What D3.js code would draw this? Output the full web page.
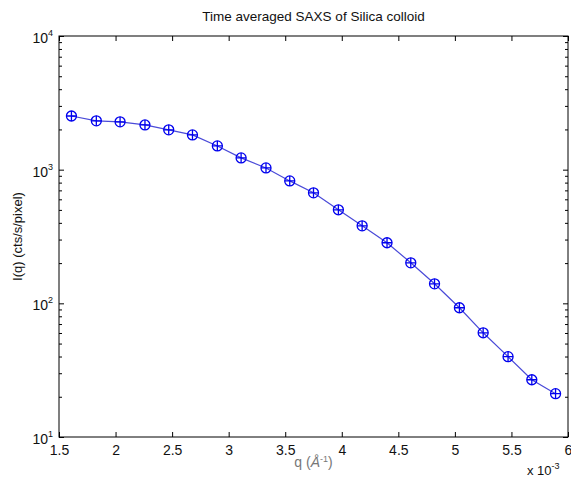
<!DOCTYPE html>
<html><head><meta charset="utf-8">
<script src="https://cdn.jsdelivr.net/npm/d3@7"></script>
<style>body{margin:0;background:#fff}svg{display:block}text{font-family:"Liberation Sans",Arial,sans-serif}</style>
</head><body><svg id="c" width="571" height="482"></svg>
<script>
const qValues = [1.61, 1.83, 2.04, 2.26, 2.47, 2.68, 2.90, 3.11, 3.33, 3.54, 3.75, 3.97, 4.18, 4.40, 4.61, 4.82, 5.04, 5.25, 5.47, 5.68, 5.89];
const intensity = [2520, 2320, 2280, 2160, 1985, 1820, 1505, 1225, 1030, 824, 671, 501, 380, 284, 201, 140, 92.7, 60.2, 39.9, 26.8, 21.1];
const xTicks = [1.5, 2, 2.5, 3, 3.5, 4, 4.5, 5, 5.5, 6];
const yDecades = [1, 2, 3, 4];
const titleText = "Time averaged SAXS of Silica colloid";
const yLabel = "I(q) (cts/s/pixel)";

const svg = d3.select("#c");
const L = 59, R = 568, T = 36, B = 437;
const x = d3.scaleLinear().domain([1.5, 6]).range([L, R]);
const y = d3.scaleLog().domain([10, 10000]).range([B, T]);

// box
svg.append("rect").attr("x", L).attr("y", T).attr("width", R - L).attr("height", B - T)
  .attr("fill", "none").attr("stroke", "#000").attr("stroke-width", 1);

// x ticks (bottom & top, inward)
const xAxisB = d3.axisBottom(x).tickValues(xTicks).tickSize(-5).tickPadding(8).tickFormat(d3.format("~g"));
const gxb = svg.append("g").attr("transform", `translate(0,${B})`).call(xAxisB);
const gxt = svg.append("g").attr("transform", `translate(0,${T})`).call(d3.axisTop(x).tickValues(xTicks).tickSize(-5).tickFormat(""));
[gxb, gxt].forEach(g => { g.select(".domain").remove(); g.selectAll("line").attr("stroke", "#000"); });
gxb.selectAll("text").attr("font-size", 14).attr("fill", "#111").attr("dy", "0.7em");

// y ticks: minor and major, both sides
const minorVals = [];
yDecades.slice(0, -1).forEach(e => { for (let k = 2; k <= 9; k++) minorVals.push(k * Math.pow(10, e)); });
const majorVals = yDecades.map(e => Math.pow(10, e));
const gyl = svg.append("g").attr("transform", `translate(${L},0)`)
  .call(d3.axisLeft(y).tickValues(minorVals).tickSize(-3).tickFormat(""));
const gylM = svg.append("g").attr("transform", `translate(${L},0)`)
  .call(d3.axisLeft(y).tickValues(majorVals).tickSize(-5).tickFormat(""));
const gyr = svg.append("g").attr("transform", `translate(${R},0)`)
  .call(d3.axisRight(y).tickValues(minorVals).tickSize(-3).tickFormat(""));
const gyrM = svg.append("g").attr("transform", `translate(${R},0)`)
  .call(d3.axisRight(y).tickValues(majorVals).tickSize(-5).tickFormat(""));
[gyl, gylM, gyr, gyrM].forEach(g => { g.select(".domain").remove(); g.selectAll("line").attr("stroke", "#000"); });

// y tick labels 10^n
yDecades.forEach(e => {
  const t = svg.append("text").attr("x", L - 6).attr("y", y(Math.pow(10, e)) + 7)
    .attr("text-anchor", "end").attr("font-size", 14).attr("fill", "#111");
  t.append("tspan").text("10");
  t.append("tspan").attr("dy", -7).attr("font-size", 9).text(e);
});

// line
svg.append("path").datum(qValues.map((q, i) => [q, intensity[i]]))
  .attr("fill", "none").attr("stroke", "#4a4ad8").attr("stroke-width", 1.2)
  .attr("d", d3.line().x(d => x(d[0])).y(d => y(d[1])));

// markers: circle with plus
const m = svg.append("g").selectAll("g").data(qValues.map((q, i) => [q, intensity[i]])).enter()
  .append("g").attr("transform", d => `translate(${x(d[0])},${y(d[1])})`);
m.append("circle").attr("r", 5).attr("fill", "none").attr("stroke", "#0000ee").attr("stroke-width", 1.3);
m.append("path").attr("d", "M-5,0H5M0,-5V5").attr("stroke", "#0000ee").attr("stroke-width", 1.3);

// title
svg.append("text").attr("x", (L + R) / 2).attr("y", 21).attr("text-anchor", "middle")
  .attr("font-size", 13.5).attr("fill", "#111").text(titleText);

// y label
svg.append("text").attr("transform", `translate(22,${(T + B) / 2}) rotate(-90)`).attr("text-anchor", "middle")
  .attr("font-size", 13).attr("fill", "#111").text(yLabel);

// x label
const xl = svg.append("text").attr("x", (L + R) / 2).attr("y", 467).attr("text-anchor", "middle")
  .attr("font-family", "Liberation Serif, serif").attr("font-size", 14).attr("fill", "#777");
xl.append("tspan").text("q (");
xl.append("tspan").attr("font-style", "italic").text("Å");
xl.append("tspan").attr("dy", -5).attr("font-size", 9).text("-1");
xl.append("tspan").attr("dy", 5).text(")");

// exponent
const ex = svg.append("text").attr("x", 527).attr("y", 475).attr("font-size", 13).attr("fill", "#111");
ex.append("tspan").text("x 10");
ex.append("tspan").attr("dy", -6).attr("font-size", 9).text("-3");
</script></body></html>
